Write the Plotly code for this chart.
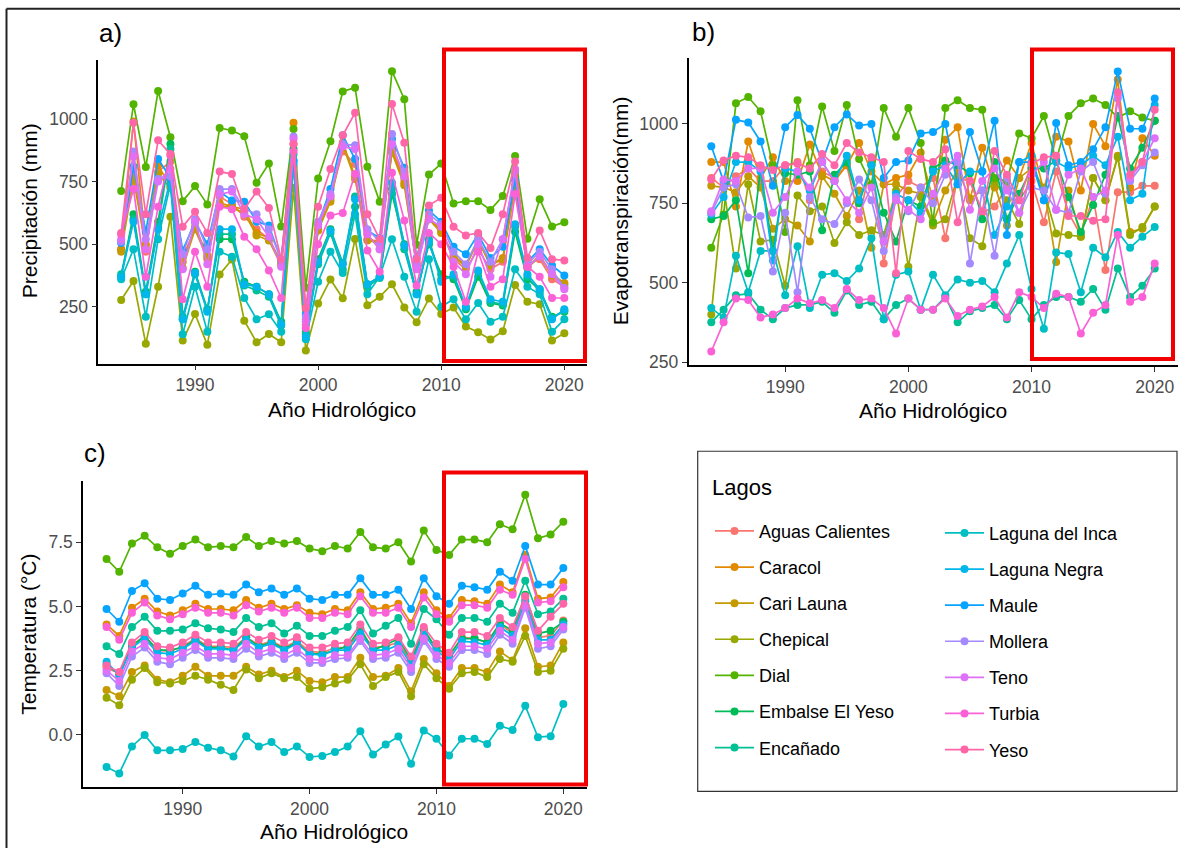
import plotly.graph_objects as go

W, H = 1180, 855
FONT = "Liberation Sans, Arial, sans-serif"

years = list(range(1984, 2021))

lakes = ["Aguas Calientes", "Caracol", "Cari Launa", "Chepical", "Dial",
         "Embalse El Yeso", "Encañado", "Laguna del Inca", "Laguna Negra",
         "Maule", "Mollera", "Teno", "Turbia", "Yeso"]
colors = ["#F8766D", "#E38900", "#C49A00", "#99A800", "#53B400", "#00BC56",
          "#00C094", "#00BFC4", "#00B6EB", "#06A4FF", "#A58AFF", "#DF70F8",
          "#FB61D7", "#FF66A8"]

# ---------------- a) Precipitación (mm) ----------------
p_aguas = [480, 800, 470, 790, 830, 450, 560, 440, 690, 660, 610, 560, 520, 430, 900, 180, 560, 690, 870, 820, 540, 480, 880, 760, 430, 600, 560, 440, 400, 480, 400, 430, 780, 420, 440, 360, 330]
p_caracol = [480, 990, 500, 815, 730, 430, 570, 455, 665, 650, 640, 545, 525, 420, 985, 200, 560, 680, 905, 770, 520, 510, 875, 745, 420, 610, 550, 455, 415, 520, 420, 445, 735, 410, 455, 380, 345]
p_cari = [470, 760, 490, 780, 725, 405, 560, 450, 655, 645, 625, 535, 515, 415, 810, 190, 555, 670, 895, 760, 515, 505, 865, 735, 415, 600, 545, 450, 410, 515, 415, 440, 730, 405, 450, 375, 340]
p_chepical = [277, 353, 102, 330, 610, 115, 221, 98, 379, 439, 194, 108, 141, 108, 725, 75, 263, 359, 284, 521, 256, 290, 340, 247, 188, 283, 221, 247, 171, 148, 119, 152, 337, 270, 260, 115, 144]
p_dial = [712, 1059, 808, 1112, 927, 672, 732, 659, 964, 954, 931, 745, 822, 571, 960, 326, 762, 911, 1110, 1125, 809, 670, 1191, 1079, 498, 778, 822, 663, 672, 672, 637, 692, 852, 522, 680, 571, 588]
p_embalse = [370, 620, 310, 590, 900, 210, 390, 240, 520, 520, 350, 330, 300, 190, 880, 150, 440, 560, 425, 650, 340, 370, 700, 500, 310, 500, 380, 360, 240, 370, 265, 255, 550, 360, 320, 210, 230]
p_encanado = [380, 600, 300, 570, 880, 200, 380, 235, 540, 540, 335, 315, 290, 175, 860, 140, 420, 545, 400, 690, 330, 365, 720, 480, 300, 520, 360, 370, 245, 390, 270, 260, 570, 370, 310, 205, 235]
p_inca = [360, 480, 210, 520, 740, 140, 330, 150, 470, 450, 285, 200, 220, 150, 830, 120, 350, 470, 385, 620, 300, 370, 520, 370, 230, 440, 250, 280, 200, 265, 190, 210, 400, 330, 300, 150, 200]
p_negra = [370, 590, 300, 560, 760, 200, 385, 230, 560, 560, 340, 330, 300, 180, 820, 130, 430, 555, 420, 680, 340, 370, 745, 495, 300, 510, 350, 380, 250, 395, 280, 270, 580, 380, 320, 200, 240]
p_maule = [505, 810, 550, 840, 765, 475, 590, 500, 710, 675, 670, 590, 575, 435, 835, 220, 580, 720, 935, 840, 555, 525, 920, 805, 445, 635, 590, 490, 460, 540, 445, 490, 755, 430, 480, 415, 375]
p_mollera = [510, 870, 520, 760, 770, 460, 600, 480, 720, 720, 640, 620, 560, 440, 930, 210, 590, 700, 900, 895, 560, 510, 940, 790, 420, 620, 580, 470, 420, 520, 430, 520, 790, 420, 470, 400, 325]
p_teno = [520, 850, 480, 750, 800, 400, 590, 420, 700, 710, 620, 600, 530, 410, 920, 190, 575, 690, 890, 880, 540, 480, 900, 770, 400, 600, 570, 430, 380, 500, 370, 520, 800, 410, 450, 380, 320]
p_turbia = [540, 720, 370, 650, 855, 280, 470, 330, 650, 640, 530, 480, 395, 285, 870, 165, 500, 615, 625, 780, 475, 390, 785, 595, 335, 545, 500, 410, 270, 470, 330, 360, 700, 410, 370, 285, 285]
p_yeso = [545, 985, 620, 915, 860, 570, 630, 545, 790, 780, 640, 710, 645, 440, 900, 245, 650, 800, 935, 1025, 620, 520, 1060, 905, 440, 655, 685, 570, 535, 545, 485, 620, 830, 445, 555, 440, 435]

# ---------------- b) Evapotranspiración (mm) ----------------
e_aguas = [830, 800, 835, 860, 820, 820, 870, 880, 760, 850, 830, 870, 700, 880, 560, 770, 820, 800, 830, 640, 830, 820, 720, 740, 800, 760, 820, 690, 850, 720, 650, 770, 540, 785, 785, 805, 805]
e_caracol = [880, 880, 740, 945, 830, 895, 820, 820, 935, 840, 820, 870, 940, 850, 810, 830, 840, 910, 760, 950, 990, 760, 925, 800, 885, 830, 940, 790, 960, 945, 790, 1000, 930, 1140, 800, 955, 900]
e_cari = [805, 800, 785, 835, 800, 670, 700, 680, 630, 835, 780, 710, 790, 610, 810, 810, 790, 780, 690, 790, 855, 765, 790, 810, 680, 830, 860, 800, 565, 790, 645, 830, 760, 900, 660, 670, 740]
e_chepical = [400, 800, 545, 810, 630, 635, 490, 775, 725, 740, 625, 690, 650, 665, 650, 790, 550, 770, 680, 700, 835, 640, 615, 820, 760, 685, 870, 790, 655, 650, 645, 830, 760, 895, 650, 675, 740]
e_dial = [610, 715, 1065, 1085, 1040, 870, 660, 1075, 870, 1055, 915, 1060, 890, 810, 1050, 960, 1050, 940, 690, 1050, 1075, 1050, 1045, 830, 820, 970, 955, 1025, 885, 1025, 1065, 1080, 1060, 1020, 1040, 1020, 1010]
e_embalse = [700, 710, 760, 530, 860, 600, 845, 840, 850, 665, 840, 880, 750, 870, 720, 630, 760, 740, 860, 885, 870, 845, 700, 880, 700, 780, 860, 860, 885, 770, 660, 745, 840, 1025, 860, 925, 1010]
e_encanado = [375, 415, 460, 465, 415, 385, 420, 430, 430, 440, 405, 475, 430, 440, 385, 430, 450, 415, 415, 455, 375, 410, 420, 430, 385, 445, 385, 430, 455, 455, 440, 480, 415, 545, 455, 490, 545]
e_inca = [420, 390, 585, 470, 600, 600, 460, 615, 420, 525, 530, 505, 545, 640, 385, 525, 535, 415, 525, 460, 510, 500, 505, 470, 560, 650, 480, 355, 595, 590, 470, 610, 580, 660, 610, 645, 675]
e_negra = [715, 770, 880, 880, 850, 570, 860, 850, 790, 880, 820, 900, 760, 870, 630, 780, 760, 720, 850, 870, 810, 850, 850, 650, 740, 880, 900, 760, 880, 860, 870, 900, 870, 960, 760, 780, 1060]
e_maule = [930, 820, 1013, 1005, 945, 805, 990, 1028, 985, 880, 990, 1030, 995, 1000, 830, 880, 885, 970, 975, 1000, 810, 975, 850, 1010, 650, 880, 880, 760, 1003, 870, 880, 920, 990, 1165, 985, 985, 1080]
e_mollera = [720, 800, 810, 705, 710, 535, 720, 470, 770, 700, 685, 750, 825, 760, 600, 770, 725, 800, 750, 840, 880, 560, 790, 585, 830, 720, 800, 790, 730, 720, 850, 880, 780, 1080, 820, 870, 910]
e_teno = [725, 825, 820, 860, 860, 720, 770, 850, 800, 880, 820, 760, 720, 800, 630, 760, 730, 700, 780, 860, 900, 730, 820, 860, 790, 720, 840, 880, 730, 840, 860, 770, 790, 1090, 830, 880, 955]
e_turbia = [283, 375, 450, 445, 390, 400, 420, 450, 435, 445, 420, 480, 445, 450, 420, 340, 450, 415, 415, 450, 395, 415, 425, 455, 390, 470, 455, 420, 465, 455, 340, 405, 430, 650, 440, 455, 560]
e_yeso = [825, 885, 900, 895, 870, 855, 870, 875, 860, 905, 870, 940, 910, 895, 880, 530, 915, 890, 880, 920, 690, 820, 725, 915, 840, 760, 875, 895, 900, 710, 710, 695, 700, 1100, 840, 880, 1045]

# ---------------- c) Temperatura (°C) ----------------
t_aguas = [2.6, 2.4, 3.5, 3.85, 3.3, 3.25, 3.45, 3.75, 3.45, 3.45, 3.4, 3.8, 3.5, 3.65, 3.4, 3.65, 3.25, 3.2, 3.4, 3.4, 4.05, 3.4, 3.45, 3.6, 2.85, 4.05, 3.35, 3.05, 3.8, 3.75, 3.6, 4.3, 3.95, 5.3, 3.8, 3.85, 4.45]
t_caracol = [4.3, 3.85, 4.95, 5.3, 4.8, 4.65, 4.85, 5.1, 4.9, 4.9, 4.85, 5.25, 4.95, 5.1, 4.9, 5.05, 4.75, 4.7, 4.9, 4.85, 5.55, 4.9, 4.95, 5.1, 4.35, 5.55, 4.85, 4.55, 5.25, 5.2, 5.1, 5.85, 5.55, 7.0, 5.3, 5.35, 5.95]
t_cari = [1.75, 1.5, 2.45, 2.7, 2.15, 2.05, 2.3, 2.65, 2.3, 2.3, 2.3, 2.65, 2.35, 2.5, 2.25, 2.5, 2.1, 2.05, 2.25, 2.25, 3.0, 2.25, 2.3, 2.6, 1.7, 2.95, 2.4, 1.9, 2.6, 2.6, 2.45, 3.25, 2.9, 4.15, 2.65, 2.7, 3.6]
t_chepical = [1.45, 1.15, 2.15, 2.6, 2.05, 2.0, 2.1, 2.3, 2.15, 1.95, 1.75, 2.55, 2.2, 2.4, 2.2, 2.25, 1.8, 1.85, 2.0, 2.15, 2.75, 1.9, 2.25, 2.45, 1.5, 2.75, 2.2, 1.8, 2.4, 2.45, 2.25, 2.95, 2.85, 3.85, 2.45, 2.5, 3.35]
t_dial = [6.85, 6.35, 7.45, 7.75, 7.3, 7.05, 7.35, 7.6, 7.3, 7.35, 7.3, 7.7, 7.35, 7.55, 7.45, 7.55, 7.25, 7.15, 7.35, 7.25, 7.9, 7.3, 7.25, 7.5, 6.75, 7.95, 7.2, 7.0, 7.6, 7.6, 7.5, 8.2, 8.0, 9.35, 7.65, 7.8, 8.3]
t_embalse = [2.75, 2.35, 3.45, 3.85, 3.3, 3.3, 3.4, 3.7, 3.4, 3.4, 3.3, 3.8, 3.45, 3.6, 3.35, 3.6, 3.15, 3.15, 3.3, 3.45, 4.15, 3.3, 3.5, 3.75, 2.9, 4.1, 3.35, 3.1, 3.75, 3.75, 3.6, 4.35, 4.05, 5.45, 3.95, 4.05, 4.4]
t_encanado = [3.45, 3.15, 4.2, 4.6, 4.05, 4.05, 4.1, 4.35, 4.15, 4.1, 4.0, 4.55, 4.2, 4.35, 3.95, 4.25, 3.85, 3.85, 4.05, 4.2, 4.85, 3.95, 4.25, 4.55, 3.55, 4.9, 4.5, 3.9, 4.55, 4.55, 4.4, 5.1, 4.75, 6.0, 4.7, 4.8, 5.3]
t_inca = [-1.25, -1.5, -0.45, 0.0, -0.6, -0.6, -0.55, -0.28, -0.5, -0.6, -0.84, -0.05, -0.45, -0.28, -0.67, -0.45, -0.86, -0.82, -0.67, -0.45, 0.14, -0.76, -0.37, -0.06, -1.12, 0.17, -0.15, -0.8, -0.15, -0.15, -0.35, 0.36, 0.19, 1.13, -0.09, -0.05, 1.2]
t_negra = [2.85, 2.3, 3.4, 3.75, 3.2, 3.15, 3.35, 3.65, 3.35, 3.35, 3.3, 3.7, 3.4, 3.55, 3.3, 3.55, 3.15, 3.1, 3.3, 3.3, 3.95, 3.3, 3.3, 3.5, 2.75, 3.95, 3.25, 2.95, 3.65, 3.6, 3.5, 4.2, 3.85, 5.2, 3.7, 3.7, 4.3]
t_maule = [4.9, 4.4, 5.6, 5.9, 5.3, 5.25, 5.5, 5.8, 5.45, 5.5, 5.45, 5.85, 5.55, 5.7, 5.45, 5.7, 5.3, 5.25, 5.45, 5.45, 6.1, 5.45, 5.45, 5.65, 4.9, 6.1, 5.4, 5.1, 5.8, 5.75, 5.65, 6.35, 6.0, 7.35, 5.85, 5.85, 6.5]
t_mollera = [2.4, 1.9, 3.05, 3.4, 2.85, 2.75, 3.0, 3.3, 3.0, 3.0, 2.95, 3.35, 3.05, 3.2, 2.95, 3.2, 2.8, 2.8, 2.95, 3.0, 3.65, 2.95, 3.0, 3.2, 2.45, 3.65, 2.95, 2.65, 3.3, 3.3, 3.15, 3.9, 3.55, 4.95, 3.35, 3.45, 4.1]
t_teno = [2.5, 2.1, 3.25, 3.55, 3.0, 2.95, 3.2, 3.45, 3.15, 3.15, 3.1, 3.55, 3.2, 3.35, 3.1, 3.35, 2.95, 2.9, 3.1, 3.1, 3.75, 3.1, 3.15, 3.35, 2.6, 3.75, 3.1, 2.8, 3.45, 3.45, 3.35, 4.05, 3.7, 5.05, 3.55, 3.6, 4.2]
t_turbia = [4.2, 3.7, 4.75, 5.15, 4.65, 4.5, 4.7, 4.95, 4.75, 4.75, 4.65, 5.05, 4.8, 4.95, 4.75, 4.95, 4.55, 4.55, 4.75, 4.7, 5.4, 4.75, 4.75, 4.95, 4.2, 5.35, 4.7, 4.4, 5.05, 5.05, 4.95, 5.65, 5.45, 6.85, 5.15, 5.2, 5.75]
t_yeso = [2.7, 2.45, 3.6, 4.0, 3.45, 3.4, 3.6, 3.9, 3.6, 3.6, 3.55, 4.0, 3.7, 3.85, 3.6, 3.8, 3.4, 3.4, 3.55, 3.6, 4.3, 3.55, 3.6, 3.8, 3.05, 4.2, 3.55, 3.2, 4.0, 4.0, 3.85, 4.55, 4.2, 5.4, 4.05, 4.6, 5.1]

prec = [p_aguas, p_caracol, p_cari, p_chepical, p_dial, p_embalse, p_encanado,
        p_inca, p_negra, p_maule, p_mollera, p_teno, p_turbia, p_yeso]
evap = [e_aguas, e_caracol, e_cari, e_chepical, e_dial, e_embalse, e_encanado,
        e_inca, e_negra, e_maule, e_mollera, e_teno, e_turbia, e_yeso]
temp = [t_aguas, t_caracol, t_cari, t_chepical, t_dial, t_embalse, t_encanado,
        t_inca, t_negra, t_maule, t_mollera, t_teno, t_turbia, t_yeso]


def fx(px):
    return px / W


def fy(py):
    return 1 - py / H


fig = go.Figure()

panels = [(prec, "x", "y", False), (evap, "x2", "y2", False), (temp, "x3", "y3", True)]
for series, xa, ya, show in panels:
    for i, (name, col) in enumerate(zip(lakes, colors)):
        fig.add_trace(go.Scatter(
            x=years, y=series[i], name=name, xaxis=xa, yaxis=ya,
            mode="lines+markers",
            line=dict(color=col, width=1.7),
            marker=dict(color=col, size=8),
            legendgroup=name, showlegend=show,
            legend="legend" if i < 7 else "legend2",
        ))

axis_common = dict(
    showline=True, linecolor="black", linewidth=1.6, mirror=False,
    ticks="outside", ticklen=5, tickwidth=1.3, tickcolor="#333333",
    tickfont=dict(size=17.5, color="#4D4D4D", family=FONT),
    showgrid=False, zeroline=False, fixedrange=True,
)
xr = [1982.15, 2021.85]
xticks = dict(tickmode="array", tickvals=[1990, 2000, 2010, 2020])

fig.update_layout(
    width=W, height=H,
    margin=dict(l=0, r=0, t=0, b=0),
    paper_bgcolor="white", plot_bgcolor="white",
    font=dict(family=FONT, color="black"),
    showlegend=True,
    xaxis=dict(domain=[fx(98.4), fx(587.1)], range=xr, anchor="y", **xticks, **axis_common),
    yaxis=dict(domain=[fy(366.7), fy(60)], range=[22.6, 1237.7], anchor="x",
               tickvals=[250, 500, 750, 1000], **axis_common),
    xaxis2=dict(domain=[fx(688.5), fx(1177.5)], range=xr, anchor="y2", **xticks, **axis_common),
    yaxis2=dict(domain=[fy(368.3), fy(58.3)], range=[239.7, 1208.4], anchor="x2",
                tickvals=[250, 500, 750, 1000], **axis_common),
    xaxis3=dict(domain=[fx(83.1), fx(586.8)], range=xr, anchor="y3", **xticks, **axis_common),
    yaxis3=dict(domain=[fy(793.3), fy(485)], range=[-2.02, 9.88], anchor="x3",
                tickvals=[0, 2.5, 5, 7.5], ticktext=["0.0", "2.5", "5.0", "7.5"], **axis_common),
    legend=dict(x=fx(710), y=fy(517), xanchor="left", yanchor="top",
                font=dict(size=18, family=FONT, color="black"),
                bgcolor="rgba(0,0,0,0)", borderwidth=0, tracegroupgap=9.7,
                itemwidth=39, itemclick=False, itemdoubleclick=False),
    legend2=dict(x=fx(940), y=fy(519), xanchor="left", yanchor="top",
                 font=dict(size=18, family=FONT, color="black"),
                 bgcolor="rgba(0,0,0,0)", borderwidth=0, tracegroupgap=9.7,
                 itemwidth=39, itemclick=False, itemdoubleclick=False),
)

ann = []


def add_text(text, x, y, size, xanchor="center", angle=0, color="black"):
    ann.append(dict(text=text, x=fx(x), y=fy(y), xref="paper", yref="paper",
                    xanchor=xanchor, yanchor="middle", showarrow=False,
                    textangle=angle, font=dict(size=size, family=FONT, color=color)))


add_text("a)", 97, 33, 26, xanchor="left")
add_text("b)", 690, 32, 26, xanchor="left")
add_text("c)", 82, 457, 26, xanchor="left")
add_text("Precipitación (mm)", 29, 213, 21, angle=-90)
add_text("Evapotranspiración(mm)", 620, 213, 21, angle=-90)
add_text("Temperatura (°C)", 29, 640, 21, angle=-90)
add_text("Año Hidrológico", 342, 413, 21)
add_text("Año Hidrológico", 933, 414, 21)
add_text("Año Hidrológico", 334, 838, 21)
add_text("Lagos", 710, 492, 22, xanchor="left")
fig.update_layout(annotations=ann)

shapes = []


def rect(x0, y0, x1, y1, color, width):
    shapes.append(dict(type="rect", xref="paper", yref="paper",
                       x0=fx(x0), x1=fx(x1), y0=fy(y1), y1=fy(y0),
                       line=dict(color=color, width=width), fillcolor="rgba(0,0,0,0)"))


def line(x0, y0, x1, y1, color, width):
    shapes.append(dict(type="line", xref="paper", yref="paper",
                       x0=fx(x0), x1=fx(x1), y0=fy(y0), y1=fy(y1),
                       line=dict(color=color, width=width)))


# red highlight boxes
rect(444, 50, 585, 364, "#F20000", 4)
rect(1032, 50, 1173, 362, "#F20000", 4)
rect(444, 476.5, 586, 791, "#F20000", 4)
# legend frame
rect(697.7, 455, 1177, 798, "#333333", 1.2)
# outer figure frame (left and top edges)
line(6.5, 8.7, 6.5, 855, "#222222", 2)
line(6.5, 8.7, 1180, 8.7, "#222222", 2)
fig.update_layout(shapes=shapes)

fig.write_html(
    "out.html",
    config={"displayModeBar": False},
    post_script="document.body.style.margin='0';document.body.style.overflow='hidden';",
)
